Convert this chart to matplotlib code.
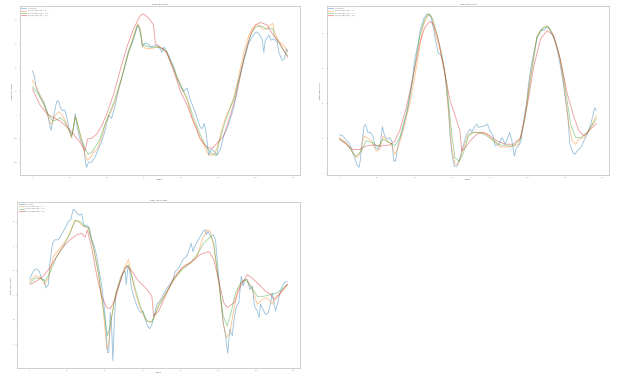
import matplotlib
matplotlib.use('Agg')
import matplotlib.pyplot as plt

# legend labels
labels = ['Unfiltered', 'Savgol window = 5', 'Savgol window = 10', 'Savgol window = 20']

# ---- Right Hip Flexion ----
hip_raw_f = [0, 1, 2, 4, 6, 8, 9.5, 10, 11, 13, 14, 15, 16, 17.5, 18.5, 20, 21, 22, 23, 24, 25.5, 27.5, 28.5, 29, 30, 32, 34, 35.5, 37, 39, 41, 42.5, 44.5, 46, 48, 50, 51.5, 53.5, 55, 56.5, 58, 59, 60, 61.5, 63.5, 66, 68, 69.5, 70.5, 72, 74, 76, 77.5, 79.5, 81, 83, 84.5, 86.5, 88.5, 90, 91, 92.3, 93.4, 94.6, 96, 97.3, 99, 101, 102.7, 104.5, 106.3, 108, 109, 110.2, 112.5, 114.3, 116, 118, 120, 121.5, 123.3, 124.2, 125, 127, 128, 129.6, 131.4, 132.3, 134, 135.3, 136.4, 137]
hip_raw = [18.6, 16.4, 11.5, 8, 5.7, 1, -5, -6.4, -2, 5.7, 6, 3, 2, 2, -1.4, -7, -9.3, -6, 0.7, -5, -10, -13, -20, -22, -20, -19.7, -17, -14, -11.5, -6.4, 0, -1.4, 4.3, 10, 15.7, 22, 27, 30, 33.6, 38, 35, 28.6, 30, 30.3, 28.6, 29.3, 28.6, 26.4, 28.6, 27, 23.6, 20, 15.7, 12, 10, 11.4, 7, 3, -1.4, -5, -5.7, -3.6, -8.6, -17, -14.3, -15, -17, -14.3, -8.6, -5.7, -1.4, 2.9, 6.4, 12.9, 20, 25, 30, 32.9, 35, 34.3, 32, 26.4, 31.4, 33.6, 31.5, 32, 30.7, 26.4, 23, 23.6, 27.9, 27]
hip_w5_f = [0, 3, 6, 9, 10, 12, 14, 16, 18, 20, 21, 22, 23, 24, 26, 28, 29.5, 31, 33, 35, 37, 39, 41, 43, 45, 47, 49, 51, 53, 55, 56.5, 58, 59, 61, 64, 67, 70, 72, 75, 78, 80, 83, 86, 88, 90, 92, 94, 96, 98, 100, 102, 104, 106, 108, 110, 112, 114, 116, 118, 120, 122, 124, 126, 128, 129, 130, 132, 134, 136, 137]
hip_w5 = [14.6, 10.5, 5, -2, -4, -0.5, 1.4, 0, -3, -7, -9.5, -5, -0.5, -3, -10, -16, -19, -18, -15.5, -14, -10, -4, -0.5, 3, 7, 13, 19, 25, 30, 35, 38.5, 36, 29, 28, 28, 28.6, 28, 26.5, 21, 15, 11.5, 6.5, -2, -5, -9.5, -12.5, -16, -17, -16, -11.5, -5, -0.5, 3, 7, 14, 21, 28, 33, 36.5, 38, 37.5, 36, 36.5, 38, 38.6, 35, 31, 30, 28, 26.5]
hip_w10_f = [0, 3, 6, 9, 11, 13, 15, 17, 19, 21, 22, 23, 24, 26, 28, 30, 32, 34, 36, 38, 40, 42, 44, 46, 48, 50, 52, 54, 56, 57, 58, 59, 61, 64, 67, 70, 72, 75, 78, 80, 83, 86, 88, 90, 92, 94, 96, 98, 99, 100, 102, 104, 106, 108, 110, 112, 114, 116, 118, 120, 122, 124, 126, 128, 129, 130, 132, 134, 136, 137]
hip_w10 = [12, 9, 4.5, -0.5, -2.5, -2, -1, -2.5, -5.5, -8.5, -5, -1, -3, -9, -14, -16.5, -15.5, -13, -10.5, -6, -1.5, 2, 6, 11, 16, 21.5, 27, 32, 37, 37.5, 34, 30, 29, 28.5, 28.6, 28, 26.5, 21, 15.5, 12, 7, 0, -4, -8, -11.5, -14, -16, -17, -16.5, -12, -6.5, -1.5, 2.5, 6.5, 12, 18.5, 25, 31, 35, 37, 37.5, 37, 36, 36.5, 36.5, 33, 31, 28, 26, 25]
hip_w20_f = [0, 4, 8, 11, 15, 18.5, 22, 25.5, 28.3, 29.6, 32, 34.6, 37.3, 40, 43.5, 47, 50.7, 54.3, 58, 59.7, 62.4, 65, 66, 68.6, 72, 75.8, 79.4, 83, 86.5, 90, 93.7, 96.4, 99, 102.7, 106.3, 110, 113.4, 117, 119.7, 122.4, 126, 128.7, 133, 137]
hip_w20 = [11, 4.3, 0.5, -1, -2.6, -5, -7.9, -11.4, -15, -10, -9.7, -7.9, -4.3, 0.7, 8.6, 18.6, 28.6, 36.4, 42, 42.6, 40.7, 37.9, 30, 28.6, 26.4, 18.6, 10, 4.3, -2.9, -10, -13.6, -14, -12, -8.6, 0, 10, 23.6, 33.6, 37.9, 38.9, 37.9, 34.3, 30, 24.3]

# ---- Right Knee Angle ----
knee_raw_f = [0, 1.8, 3.6, 5, 6.2, 8, 9.3, 10.3, 11, 12.1, 13, 13.9, 15.1, 16.3, 17.8, 19, 20.5, 21.7, 22.8, 24, 25.3, 26.7, 27.8, 28.9, 29.9, 31.2, 33, 34.7, 36.5, 38.3, 40, 41.9, 43.1, 44.9, 46.7, 48.4, 50.2, 51.3, 52.5, 53.8, 55.2, 56.6, 57.9, 58.8, 59.7, 61, 62.4, 64, 66, 67.7, 69.5, 70.3, 71.6, 73, 73.9, 75.7, 77.5, 78.7, 80, 81.6, 82.8, 84.6, 86.4, 88.2, 90.5, 91.7, 93, 94, 95.3, 96.5, 98, 99.4, 100.6, 101.9, 103.7, 105.4, 107.2, 108.6, 110, 111.8, 113.6, 115.4, 117.2, 119, 120.2, 121.5, 122.5, 123.8, 125, 126.4, 128.2, 130, 131.8, 133.6, 135, 135.7, 136.6]
knee_raw = [22, 21.4, 18.9, 17.5, 14.6, 8.8, 4.9, 3.3, 6.8, 18.5, 26.7, 27.8, 23.4, 23.4, 21.4, 14.6, 13.6, 16.6, 26.7, 21.4, 19.5, 20.4, 18.5, 6.8, 7.2, 16.6, 22.4, 30.2, 38, 49.7, 65.2, 75, 82.8, 89, 91.5, 90.6, 81.8, 75, 69, 68, 63.3, 51.6, 38, 21.4, 11.7, 3.9, 3.9, 8.8, 16.6, 22.4, 25.3, 23.4, 26.3, 28.2, 26.3, 26.7, 27.3, 28.2, 24.3, 21.4, 15.6, 16.6, 20.4, 16.6, 23.4, 18.5, 9.7, 14.6, 15.6, 18.5, 30.2, 40, 51.6, 61.3, 71, 78.9, 82.8, 81.8, 83.7, 82.8, 78.9, 73, 63.3, 51.6, 41.9, 32.1, 16.6, 12.7, 10.7, 12.7, 14.6, 18.5, 22.4, 28.2, 34, 37.6, 36]
knee_w5_f = [0, 3.6, 7.1, 8.9, 10.7, 13, 14.6, 17, 19.6, 21.4, 23.2, 25.3, 27.6, 29.4, 31.2, 33.8, 37.4, 41, 44.5, 47.2, 49, 50.8, 53.4, 56.1, 57.9, 59.7, 61.4, 63.2, 65.9, 68.6, 71.2, 74.8, 78.4, 82, 85.5, 89, 92.6, 95.3, 98, 101.5, 105, 108.6, 110.4, 113.1, 116.6, 119.3, 121.9, 123.8, 125.6, 127.3, 130, 133.6, 136.6]
knee_w5 = [20.4, 17.5, 11.7, 8.8, 10.7, 21.4, 20.4, 18.5, 12.7, 13.6, 21.4, 18.5, 16.6, 10.7, 14.6, 24.3, 40, 61.3, 84.7, 91, 89.6, 80.8, 71, 58.4, 36, 14.6, 4.9, 5.3, 14.6, 22.4, 23.4, 23.4, 22.4, 18.5, 15, 15, 15.6, 16.6, 28.2, 55.5, 78.9, 83.7, 84.7, 80.8, 69, 51.6, 28.2, 18.5, 16.6, 19.5, 20.4, 26.3, 33]
knee_w10_f = [0, 3.6, 7.1, 8.9, 11.6, 14.2, 17.8, 20.5, 23.2, 26.7, 29.4, 32, 35.6, 39.2, 42.7, 45.4, 47.7, 49.5, 51.6, 54.3, 57, 59.7, 61.4, 63.8, 65.9, 68.6, 71.2, 74.8, 78.4, 82, 85.5, 89, 92.6, 96.2, 98.8, 101.5, 105, 108.6, 110.8, 114, 117.5, 120.2, 122.9, 125.6, 128.2, 131.8, 136.6]
knee_w10 = [19.5, 17, 11.7, 9.7, 12.7, 18.5, 17.5, 15, 19.5, 17.5, 15.6, 20.4, 34, 55.5, 78.9, 88.6, 91.5, 88.6, 80.8, 69, 51.6, 22.4, 8.8, 6.8, 11.7, 21.4, 23.4, 23.4, 21.4, 18.5, 16.2, 15.6, 15.6, 19.5, 32.1, 53.5, 77.9, 83.7, 84.3, 77.9, 65.2, 47.7, 28.2, 20.4, 20.4, 23.4, 31.2]
knee_w20_f = [0, 3.6, 7.1, 10.7, 14.2, 17.8, 22.3, 26.7, 29.4, 32, 35.6, 39.2, 42.7, 45.4, 48, 49.9, 52.5, 55.2, 58.8, 62.3, 64, 65, 66.8, 69.5, 73, 76.6, 80.1, 83.7, 88.2, 92.6, 96.2, 99.7, 103.3, 106.9, 110.4, 114, 117.5, 121.1, 124.7, 127.3, 130, 133.6, 136.6]
knee_w20 = [19.5, 16.6, 13.6, 13.6, 15.6, 16.2, 15.6, 16.2, 18.5, 24.3, 38, 55.5, 75, 83.7, 87, 85.7, 77, 61.3, 41.9, 30.2, 24.3, 12.7, 14.6, 18.5, 22.4, 23.4, 21.4, 18.5, 16.6, 16.6, 20.4, 38, 61.3, 77, 81.8, 78.9, 65.2, 45.8, 32.1, 24.3, 21.4, 25.3, 28.6]

# ---- Right Ankle Angle ----
ankle_raw_f = [0, 0.9, 2.3, 3.5, 5, 6.2, 7.4, 8.5, 9.8, 10.6, 12, 13.3, 15.1, 16.3, 17.7, 19.1, 20.4, 21.6, 23, 24.5, 25.7, 27.5, 28.7, 30.1, 31.6, 32.8, 34, 35.5, 36.9, 38.1, 39.4, 40.4, 41.1, 41.8, 42.6, 43.4, 44, 44.9, 45.7, 47, 48.2, 49.3, 50.5, 51.1, 52, 52.8, 53.7, 55, 56.4, 57.6, 58.9, 59.9, 61.2, 62.4, 63.5, 64.7, 66, 67.4, 68.8, 70.6, 72.3, 74.1, 75.9, 77.1, 78.4, 79.8, 81.2, 83, 84.2, 85.5, 86.5, 87.8, 89, 90.4, 91.8, 93.1, 93.6, 94.5, 95.7, 97.2, 98.4, 99.6, 101.1, 102.5, 103.7, 104.9, 106, 107.3, 108.5, 109.6, 110.8, 112.1, 113.1, 114, 115.2, 116.7, 117.9, 119.1, 120.6, 121.5, 122.3, 123.6, 125, 126.4, 127.7, 128.5, 129.4, 130.3, 131.2, 132.6, 133.9, 135.1, 136.5]
ankle_raw = [18.3, 19.2, 20.2, 20.4, 19.9, 18.3, 18.3, 16.5, 17.2, 21.6, 25.6, 26.3, 26.3, 27, 28, 29, 30, 30.3, 32.5, 32, 31.3, 31.5, 29, 29.3, 28.7, 26.3, 25.3, 22.9, 19.6, 16.9, 12.8, 8.1, 3.4, 3.4, 11.5, 8.1, 1.7, 10.8, 15.5, 16.9, 18.2, 19.6, 19.9, 17.2, 20.9, 20.2, 16.9, 14.8, 13.2, 12.1, 11.5, 11.8, 10.1, 8.8, 8.2, 9.1, 11.1, 13.2, 13.8, 15, 16.2, 17.2, 18.2, 19.9, 20.2, 21.2, 22.3, 22.9, 23.9, 25.6, 23.9, 25.3, 26, 27, 28, 28.3, 27.3, 28, 27, 27.3, 26.3, 20.9, 14.8, 9.4, 6.8, 3.2, 8.1, 6.8, 10.8, 12.8, 13.5, 18.9, 16.9, 18.2, 18.2, 16.2, 16.9, 12.8, 11.8, 10.5, 13.2, 12.1, 11.1, 11.5, 13.5, 15.5, 13.5, 11.8, 13.2, 15.5, 16.9, 17.7, 17.7]
ankle_w5_f = [0, 2.7, 5.3, 8, 9.8, 12.4, 16, 19.5, 22.2, 23.9, 25.7, 28.4, 31, 33.7, 36.3, 39, 40.8, 41.7, 43.4, 45.2, 47.9, 50.5, 52.3, 54.1, 55.9, 58.5, 61.2, 63.8, 66, 68.3, 71.8, 75.4, 78.9, 82.4, 85.1, 88.7, 91.3, 94, 95.7, 97.5, 100.2, 102.5, 104.3, 106, 108.2, 110.3, 112.6, 115.2, 117.9, 120.6, 123.2, 125.9, 128.5, 130.3, 133, 136.5]
ankle_w5 = [17.9, 19, 18.7, 17.2, 18.5, 22.9, 24.6, 26.3, 28.7, 30.2, 30, 29, 28.7, 24.9, 19.6, 11.5, 4.1, 4.7, 10.8, 14.8, 18.5, 20.9, 22.3, 18.9, 15.5, 12.5, 10.1, 9.4, 10.5, 13.2, 15.2, 17.5, 19.7, 21.2, 21.6, 22.9, 26.3, 28.3, 28, 24.9, 17.5, 9.4, 6.4, 7.4, 12.1, 16.2, 17.9, 18.2, 16.2, 13.2, 14.2, 14.5, 13.2, 14.2, 15.5, 17.2]
ankle_w10_f = [0, 2.7, 5.3, 8, 10.6, 14.2, 17.7, 21.3, 23.9, 26.6, 29.3, 31, 33.7, 36.3, 39, 41.1, 42.6, 45.2, 47.9, 50.5, 52.3, 55, 58.5, 62.1, 64.7, 67.4, 71.8, 76.2, 80.7, 85.1, 88.7, 92.2, 94.9, 96.1, 97.5, 100.2, 102.5, 104.6, 106.7, 109, 111.7, 114.4, 117, 120.6, 124.1, 127.7, 131.2, 136.5]
ankle_w10 = [17.5, 18.5, 18.5, 17.9, 19.6, 22.9, 24.9, 27.6, 30.2, 30, 29, 28.7, 24.6, 19.6, 12.1, 6.8, 8.8, 14.8, 18.2, 20.6, 21.2, 17.5, 12.8, 9.8, 9.6, 12.1, 15.2, 18.2, 20.2, 21.6, 23.3, 25.6, 26.6, 27, 25.6, 17.5, 10.8, 8.8, 11.5, 15.5, 17.5, 18.2, 16.9, 14.8, 14.8, 15.2, 15.5, 17.2]
ankle_w20_f = [0, 3.5, 7.1, 10.6, 14.2, 17.7, 21.3, 24.8, 27.5, 29.3, 30.5, 32.8, 35.5, 38.1, 40.8, 42.6, 45.2, 48.8, 51.4, 54.1, 57.6, 62.1, 64.7, 65.6, 68.3, 71.8, 76.2, 80.7, 85.1, 90.4, 94.9, 97.5, 100.2, 102.8, 104.6, 108.2, 111.7, 115.2, 117.9, 121.5, 125, 127.7, 129.4, 133, 136.5]
ankle_w20 = [17.2, 17.9, 18.9, 20.6, 22.9, 24.9, 26.3, 27.3, 27.6, 26.8, 28.3, 24.6, 18.9, 14.8, 12.5, 12.3, 14.2, 18.9, 21, 19.9, 17.9, 16.2, 14.8, 10.8, 11.8, 14.8, 18.5, 20.6, 21.6, 23.3, 23.9, 22.3, 17.9, 13.5, 12.5, 13.5, 16.9, 19.2, 18.5, 17.2, 15.8, 15.2, 14.2, 15.5, 17.2]

plots = [
    ('Right Hip Flexion', [(hip_raw_f, hip_raw), (hip_w5_f, hip_w5), (hip_w10_f, hip_w10), (hip_w20_f, hip_w20)], [40, 30, 20, 10, 0, -10, -20]),
    ('Right Knee Angle', [(knee_raw_f, knee_raw), (knee_w5_f, knee_w5), (knee_w10_f, knee_w10), (knee_w20_f, knee_w20)], [0, 20, 40, 60, 80]),
    ('Right Ankle Angle', [(ankle_raw_f, ankle_raw), (ankle_w5_f, ankle_w5), (ankle_w10_f, ankle_w10), (ankle_w20_f, ankle_w20)], [5, 10, 15, 20, 25, 30]),
]

# axes boxes in figure fractions (left, bottom, width, height)
boxes = [
    [0.0317, 0.538, 0.452, 0.446],
    [0.526, 0.538, 0.455, 0.446],
    [0.0274, 0.028, 0.456, 0.440],
]

colors = ['tab:blue', 'tab:orange', 'tab:green', 'tab:red']

fig = plt.figure(figsize=(24.84, 15.16), dpi=25)
for (title, series, yt), box in zip(plots, boxes):
    ax = fig.add_axes(box)
    for (x, y), c, lab in zip(series, colors, labels):
        ax.plot(x, y, color=c, alpha=0.45, linewidth=2.5, label=lab)
    ax.set_title(title, fontsize=5.5, color='#555555', pad=3)
    ax.set_xlabel('Frame', fontsize=5.5, color='#555555', labelpad=2)
    ax.set_ylabel(title, fontsize=5.5, color='#555555', labelpad=2)
    ax.set_xticks([0, 20, 40, 60, 80, 100, 120, 140])
    ax.set_yticks(yt)
    ax.tick_params(labelsize=5.5, width=1, length=4, pad=2, colors='#999999')
    for s in ax.spines.values():
        s.set_color('#bbbbbb')
        s.set_linewidth(2)
    leg = ax.legend(loc='upper left', fontsize=5.5, frameon=True, handlelength=2.5)
    for t in leg.get_texts():
        t.set_color('#777777')
    leg.get_frame().set_edgecolor('#eeeeee')

fig.savefig('out.png', dpi=25)
